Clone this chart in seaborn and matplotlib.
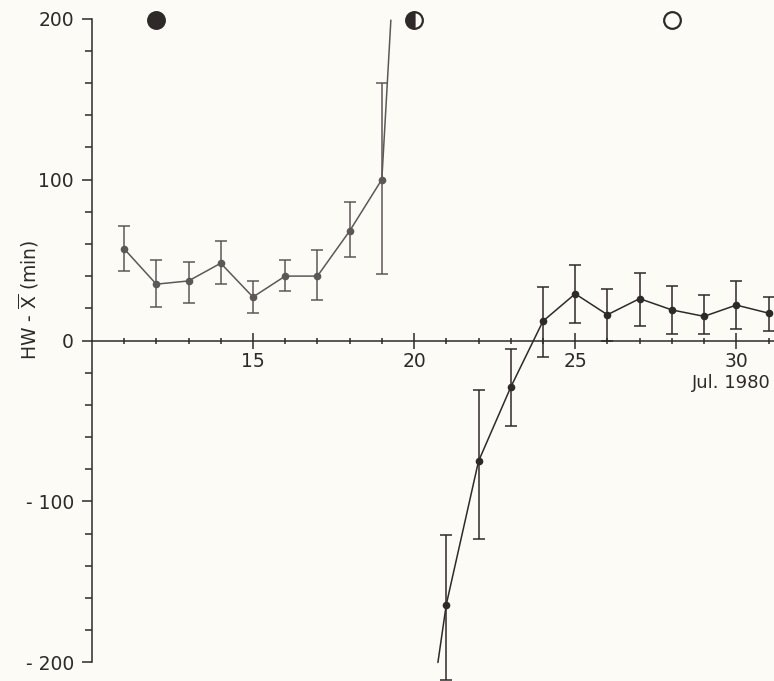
import numpy as np
import pandas as pd
import matplotlib
matplotlib.use("Agg")
import matplotlib.pyplot as plt
import seaborn as sns
from matplotlib.ticker import MultipleLocator, FixedLocator

# ==========================================
# DATA
# ==========================================
days_a = [11, 12, 13, 14, 15, 16, 17, 18, 19]
dev_a = [57, 35, 37, 48, 27, 40, 40, 68, 100]
err_lo_a = [43, 21, 23, 35, 17, 31, 25, 52, 41]
err_hi_a = [71, 50, 49, 62, 37, 50, 56, 86, 160]

days_b = [21, 22, 23, 24, 25, 26, 27, 28, 29, 30, 31]
dev_b = [-164, -75, -29, 12, 29, 16, 26, 19, 15, 22, 17]
err_lo_b = [-211, -123, -53, -10, 11, 0, 9, 4, 4, 7, 6]
err_hi_b = [-121, -31, -5, 33, 47, 32, 42, 34, 28, 37, 27]

# lines running off the scale around day 20
lead_up_x = [19, 19.28]
lead_up_y = [100, 199]
lead_dn_x = [20.74, 21]
lead_dn_y = [-200, -164]

# moon phases
moon_days = [12, 20, 28]
moon_fill = ["full", "left", "none"]

x_major = [15, 20, 25, 30]
y_major = [-200, -100, 0, 100, 200]
y_labels = ["- 200", "- 100", "0", "100", "200"]

BG = "#fcfbf5"
INK = "#2e2a2a"
GREY = "#5d5858"

sns.set_theme(style="white")
plt.rcParams["font.family"] = ["DejaVu Sans"]
plt.rcParams["mathtext.fontset"] = "dejavusans"

fig = plt.figure(figsize=(7.74, 6.81), dpi=100, facecolor=BG)
ax = fig.add_axes([0, 0, 1, 1], facecolor=BG)

df_a = pd.DataFrame({"day": days_a, "dev": dev_a})
df_b = pd.DataFrame({"day": days_b, "dev": dev_b})

for df, lo, hi, col in [(df_a, err_lo_a, err_hi_a, GREY), (df_b, err_lo_b, err_hi_b, INK)]:
    yerr = np.vstack([df["dev"] - np.array(lo), np.array(hi) - df["dev"]])
    ax.errorbar(df["day"], df["dev"], yerr=yerr, fmt="none", ecolor=col,
                elinewidth=1.1, capsize=4, capthick=1.1, zorder=2)
    sns.lineplot(data=df, x="day", y="dev", ax=ax, color=col, lw=1.1,
                 marker="o", markersize=5.5, markeredgewidth=0,
                 markerfacecolor=col, zorder=3)

ax.plot(lead_up_x, lead_up_y, color=GREY, lw=1.1, zorder=3)
ax.plot(lead_dn_x, lead_dn_y, color=INK, lw=1.1, zorder=3)

for d, fs in zip(moon_days, moon_fill):
    ax.plot([d], [199], marker="o", markersize=12, fillstyle=fs,
            color=INK, markerfacecoloralt=BG, markeredgecolor=INK,
            markeredgewidth=1.6, clip_on=False)

ax.set_xlim(7.15, 31.17)
ax.set_ylim(-211.5, 211.5)

for s in ["top", "right"]:
    ax.spines[s].set_visible(False)
ax.spines["left"].set_position(("data", 10))
ax.spines["bottom"].set_position(("data", 0))
ax.spines["left"].set_bounds(-200, 200)
ax.spines["bottom"].set_bounds(10, 31.17)
for s in ["left", "bottom"]:
    ax.spines[s].set_color(INK)
    ax.spines[s].set_linewidth(1.1)

ax.yaxis.set_major_locator(FixedLocator(y_major))
ax.set_yticklabels(y_labels)
ax.yaxis.set_minor_locator(MultipleLocator(20))
ax.xaxis.set_major_locator(FixedLocator(x_major))
ax.set_xticklabels([str(v) for v in x_major])
ax.xaxis.set_minor_locator(FixedLocator(list(range(11, 32))))

ax.tick_params(axis="y", which="major", direction="out", length=7, width=1.1,
               color=INK, labelcolor=INK, labelsize=13.5, pad=6, left=True)
ax.tick_params(axis="y", which="minor", direction="out", length=5, width=1.1,
               color=INK, left=True)
ax.tick_params(axis="x", which="major", direction="inout", length=12, width=1.1,
               color=INK, labelcolor=INK, labelsize=13.5, pad=2, bottom=True)
ax.tick_params(axis="x", which="minor", direction="inout", length=5, width=1.1,
               color=INK, bottom=True)

ax.set_xlabel("")
ax.set_ylabel("")
ax.text(31.08, -26.5, "Jul. 1980", ha="right", va="center", fontsize=13, color=INK)
fig.text(0.037, 0.56, r"HW - $\overline{\mathrm{X}}$ (min)", rotation=90,
         ha="center", va="center", fontsize=13.5, color=INK)

fig.savefig("out.png", dpi=100, facecolor=BG)
